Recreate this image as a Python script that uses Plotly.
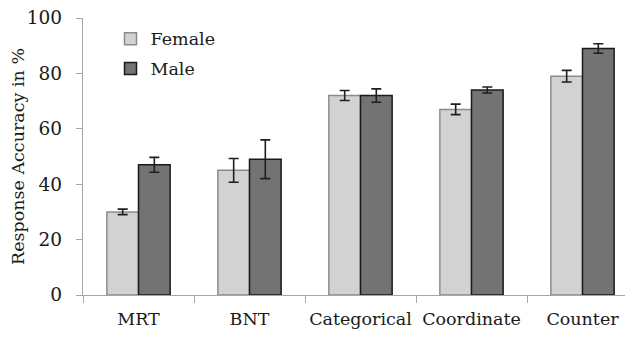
import plotly.graph_objects as go

categories = ["MRT", "BNT", "Categorical", "Coordinate", "Counter"]
female = [30, 45, 72, 67, 79]
female_err = [1.0, 4.3, 1.8, 1.9, 2.1]
male = [47, 49, 72, 74, 89]
male_err = [2.7, 7.0, 2.4, 1.1, 1.7]
y_ticks = [0, 20, 40, 60, 80, 100]

font_family = "DejaVu Serif"
axis_color = "#a6a6a6"

fig = go.Figure()
fig.add_trace(go.Bar(
    name="Female", x=categories, y=female, legendgroup="f",
    marker=dict(color="#d1d2d1", line=dict(color="#8c8c8c", width=1.5)),
    error_y=dict(type="data", array=female_err, visible=True,
                 color="#1e1e1e", thickness=1.6, width=5),
))
fig.add_trace(go.Bar(
    name="Male", x=categories, y=male, legendgroup="m",
    marker=dict(color="#737373", line=dict(color="#1a1a1a", width=1.5)),
    error_y=dict(type="data", array=male_err, visible=True,
                 color="#1e1e1e", thickness=1.6, width=5),
))

# page body has an 8px default margin, so the figure is sized to fit 633x337
fig.update_layout(
    width=625, height=329,
    margin=dict(l=75, r=0, t=10, b=42, autoexpand=False),
    paper_bgcolor="white", plot_bgcolor="white",
    barmode="group", bargap=0.43, bargroupgap=0,
    font=dict(family=font_family, size=17.5, color="#1a1a1a"),
    showlegend=True,
    legend=dict(x=0.05, y=0.99, xanchor="left", yanchor="top",
                bgcolor="rgba(0,0,0,0)", font=dict(size=17.5),
                traceorder="grouped", tracegroupgap=4, itemwidth=30),
    xaxis=dict(
        range=[-0.5, 4.455], showline=True, linecolor=axis_color, linewidth=1.3,
        ticks="outside", tickson="boundaries", ticklen=7, tickcolor=axis_color,
        tickwidth=1.3, showgrid=False, zeroline=False, tickangle=0,
        automargin=False, tickfont=dict(size=17.5), ticklabelstandoff=8,
    ),
    yaxis=dict(
        range=[0, 100], tickvals=y_ticks, showline=True, linecolor=axis_color,
        linewidth=1.3, ticks="outside", ticklen=6, tickcolor=axis_color,
        tickwidth=1.3, showgrid=False, zeroline=False, automargin=False,
        ticklabelstandoff=10, ticklabeloverflow="allow",
        title=dict(text="Response Accuracy in %", font=dict(size=17.5), standoff=12),
        tickfont=dict(size=18.5),
    ),
)

fig.write_html("out.html")
